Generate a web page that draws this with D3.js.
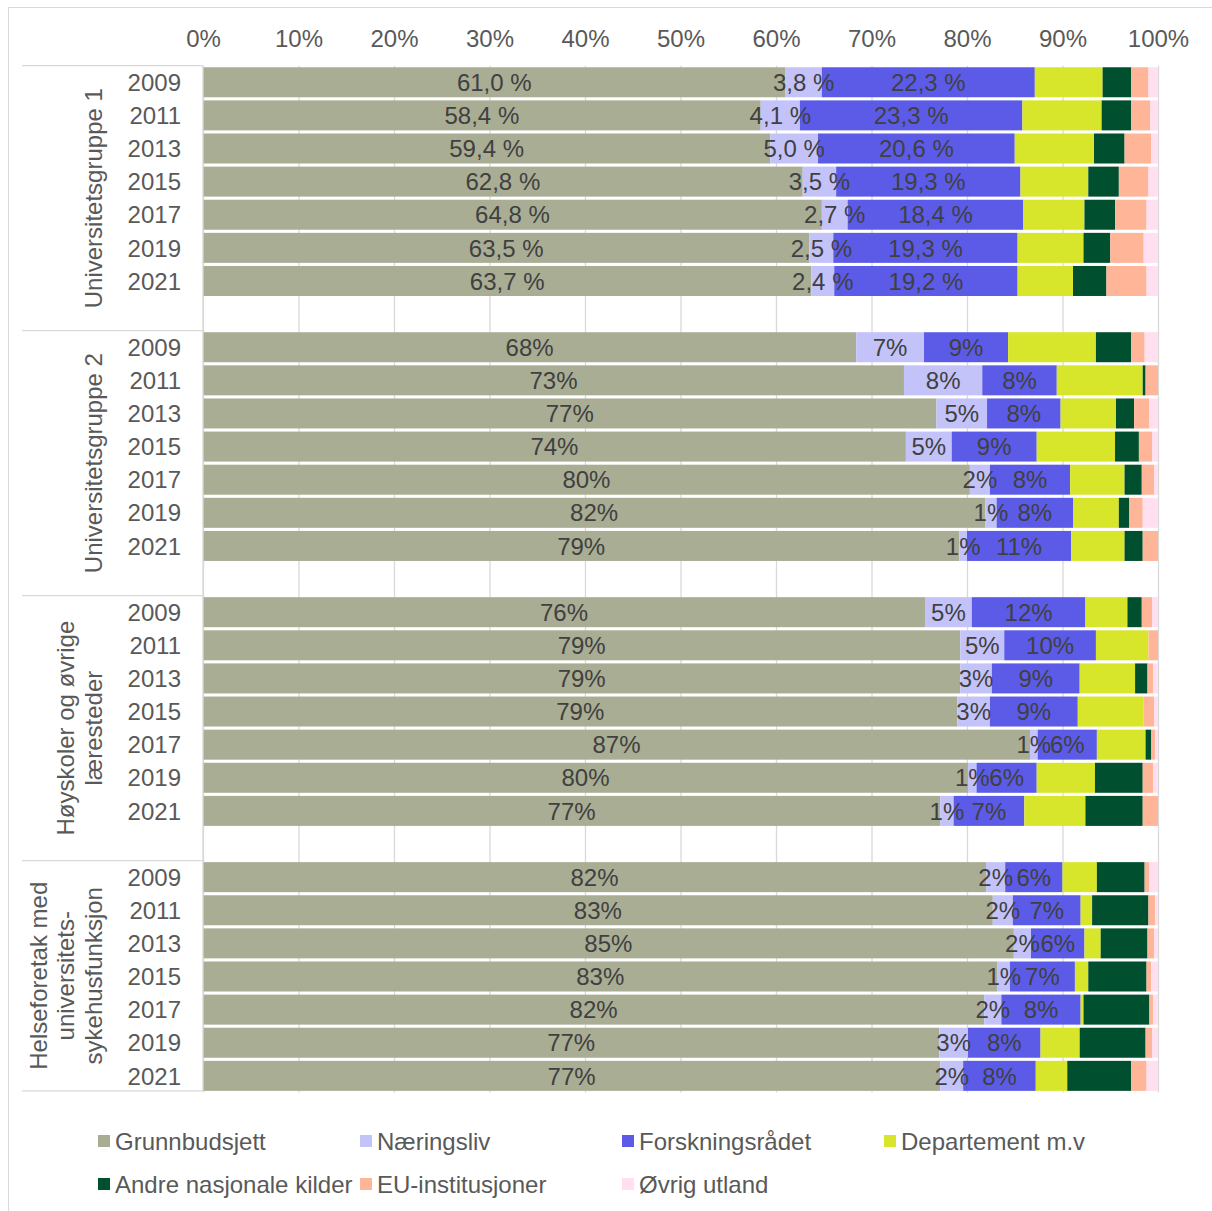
<!DOCTYPE html>
<html>
<head>
<meta charset="utf-8">
<script src="https://cdn.jsdelivr.net/npm/d3@7"></script>
<style>
  body { margin: 0; background: #fff; }
  svg { font-family: "Liberation Sans", Arial, sans-serif; }
</style>
</head>
<body>
<div class="canvas"></div>
<script>
// DATA
const groups = [
    ['Universitetsgruppe 1'],
    ['Universitetsgruppe 2'],
    ['Høyskoler og øvrige', 'læresteder'],
    ['Helseforetak med', 'universitets-', 'sykehusfunksjon']
];
const years = ['2009', '2011', '2013', '2015', '2017', '2019', '2021'];
const seriesNames = ['Grunnbudsjett', 'Næringsliv', 'Forskningsrådet', 'Departement m.v',
    'Andre nasjonale kilder', 'EU-institusjoner', 'Øvrig utland'];
const tickLabels = ['0%', '10%', '20%', '30%', '40%', '50%', '60%', '70%', '80%', '90%', '100%'];

// values in %, order: group 1 (2009..2021), group 2, group 3, group 4
const grunnbudsjett = [61.0, 58.4, 59.4, 62.8, 64.8, 63.5, 63.7,
    68.4, 73.4, 76.8, 73.6, 80.3, 81.9, 79.2,
    75.6, 79.3, 79.3, 79.0, 86.6, 80.1, 77.2,
    82.0, 82.7, 84.9, 83.2, 81.8, 77.1, 77.2];
const naeringsliv = [3.8, 4.1, 5.0, 3.5, 2.7, 2.5, 2.4,
    7.1, 8.2, 5.3, 4.8, 2.1, 1.2, 0.8,
    4.9, 4.6, 3.3, 3.4, 0.8, 0.9, 1.4,
    2.0, 2.1, 1.8, 1.3, 1.8, 3.0, 2.4];
const forskningsradet = [22.3, 23.3, 20.6, 19.3, 18.4, 19.3, 19.2,
    8.8, 7.8, 7.7, 8.9, 8.4, 8.0, 10.9,
    11.9, 9.6, 9.2, 9.2, 6.2, 6.3, 7.4,
    6.0, 7.1, 5.6, 6.8, 8.3, 7.6, 7.6];
const departement = [7.1, 8.3, 8.3, 7.1, 6.4, 6.9, 5.8,
    9.2, 9.0, 5.8, 8.2, 5.7, 4.8, 5.6,
    4.4, 5.5, 5.8, 6.9, 5.1, 6.1, 6.4,
    3.6, 1.2, 1.7, 1.4, 0.3, 4.1, 3.3];
const andreNasjonale = [3.0, 3.1, 3.2, 3.2, 3.2, 2.8, 3.5,
    3.7, 0.3, 1.9, 2.5, 1.8, 1.1, 1.9,
    1.5, 0.0, 1.3, 0.0, 0.6, 5.0, 6.0,
    5.0, 5.9, 4.9, 6.1, 6.9, 6.9, 6.7];
const euInstitusjoner = [1.8, 2.0, 2.8, 3.1, 3.3, 3.5, 4.2,
    1.4, 1.3, 1.6, 1.4, 1.3, 1.4, 1.6,
    1.1, 1.0, 0.6, 1.1, 0.4, 1.1, 1.6,
    0.5, 0.7, 0.7, 0.5, 0.4, 0.7, 1.6];
const ovrigUtland = [1.0, 0.8, 0.7, 1.0, 1.2, 1.5, 1.2,
    1.4, 0.0, 0.9, 0.6, 0.4, 1.6, 0.0,
    0.6, 0.0, 0.5, 0.4, 0.3, 0.5, 0.0,
    0.9, 0.3, 0.4, 0.7, 0.5, 0.6, 1.2];

const colors = ['#a9ad94', '#c3c3fa', '#5b5be8', '#d7e62b', '#00502f', '#ffb598', '#ffdff0'];


// worksheet
const width = 1212, height = 1211;
const svg = d3.select('.canvas').append('svg')
    .attr('width', width)
    .attr('height', height);

// outer frame
svg.append('rect')
    .attr('x', 8.5).attr('y', 7.5)
    .attr('width', width).attr('height', height)
    .attr('fill', 'none')
    .attr('stroke', '#d9d9d9');


// rows (with an empty slot between groups)
const rows = [];
const slots = [];
groups.forEach((g, gi) => {
    years.forEach((yr, yi) => {
        const i = gi * years.length + yi;
        const key = `${gi}-${yr}`;
        slots.push(key);
        const vals = [grunnbudsjett[i], naeringsliv[i], forskningsradet[i], departement[i],
            andreNasjonale[i], euInstitusjoner[i], ovrigUtland[i]];
        const total = d3.sum(vals);
        rows.push({ key, group: gi, year: yr, vals: vals.map(v => v / total), raw: vals });
    });
    if (gi < groups.length - 1) slots.push(`gap${gi}`);
});


// scales
const x = d3.scaleLinear().domain([0, 1]).range([203, 1158]);
const y = d3.scaleBand()
    .domain(slots)
    .range([65.7, 65.7 + slots.length * 33.12])
    .paddingInner(0.094)
    .paddingOuter(0.047);

const textColor = '#595959';
const fontSize = '24px';


// gridlines + top axis
const axis = d3.axisTop(x)
    .tickValues(d3.range(0, 1.01, 0.1))
    .tickFormat((d, i) => tickLabels[i])
    .tickSize(-(y.range()[1] - y.range()[0]));

const gAxis = svg.append('g')
    .attr('transform', `translate(0, ${y.range()[0]})`)
    .call(axis);
gAxis.select('.domain').remove();
gAxis.selectAll('.tick line').attr('stroke', '#d9d9d9').attr('stroke-width', 1.3);
gAxis.selectAll('.tick text')
    .attr('fill', textColor)
    .style('font-size', fontSize)
    .attr('y', 38 - y.range()[0])
    .attr('dy', '0.36em');


// BARS
rows.forEach(r => {
    const g = svg.append('g');
    let acc = 0;
    r.vals.forEach((v, si) => {
        const x0 = acc;
        acc += v;
        if (v <= 0) return;
        g.append('rect')
            .attr('x', x(x0))
            .attr('y', y(r.key))
            .attr('width', x(acc) - x(x0))
            .attr('height', y.bandwidth())
            .attr('fill', colors[si]);
    });

    // labels on the first three series
    acc = 0;
    r.vals.forEach((v, si) => {
        const x0 = acc;
        acc += v;
        if (si > 2) return;
        const txt = r.group === 0
            ? d3.format('.1f')(r.raw[si]).replace('.', ',') + ' %'
            : Math.round(r.raw[si]) + '%';
        g.append('text')
            .attr('x', (x(x0) + x(acc)) / 2)
            .attr('y', y(r.key) + y.bandwidth() / 2)
            .attr('dy', '0.36em')
            .attr('text-anchor', 'middle')
            .attr('fill', '#404040')
            .style('font-size', fontSize)
            .text(txt);
    });

    // year label
    svg.append('text')
        .attr('x', 181)
        .attr('y', y(r.key) + y.bandwidth() / 2)
        .attr('dy', '0.36em')
        .attr('text-anchor', 'end')
        .attr('fill', textColor)
        .style('font-size', fontSize)
        .text(r.year);
});


// category axis lines
const yTop = y.range()[0], yBot = y.range()[1] - 1.5;
svg.append('line')
    .attr('x1', 203).attr('x2', 203)
    .attr('y1', yTop).attr('y2', yBot)
    .attr('stroke', '#d9d9d9').attr('stroke-width', 1.3);

// group boundaries: top of first row slot .. end of trailing gap slot
const groupBounds = groups.map((g, gi) => {
    const top = gi === 0 ? yTop : y(`gap${gi - 1}`) - y.step() * y.paddingInner() / 2 + y.step();
    const bot = gi < groups.length - 1
        ? y(`gap${gi}`) - y.step() * y.paddingInner() / 2 + y.step()
        : yBot;
    return [top, bot];
});

[yTop, ...groupBounds.map(b => b[1])].forEach(sy => {
    svg.append('line')
        .attr('x1', 22).attr('x2', 203)
        .attr('y1', sy).attr('y2', sy)
        .attr('stroke', '#d9d9d9').attr('stroke-width', 1.3);
});


// group labels (rotated)
groups.forEach((lines, gi) => {
    const cy = (groupBounds[gi][0] + groupBounds[gi][1]) / 2;
    lines.forEach((line, li) => {
        const cx = 93 - (lines.length - 1 - li) * 27.5;
        svg.append('text')
            .attr('transform', `translate(${cx}, ${cy}) rotate(-90)`)
            .attr('dy', '0.36em')
            .attr('text-anchor', 'middle')
            .attr('fill', textColor)
            .style('font-size', fontSize)
            .text(line);
    });
});


// LEGEND
const legendPos = [[98, 1141], [360, 1141], [622, 1141], [884, 1141],
    [98, 1184], [360, 1184], [622, 1184]];
seriesNames.forEach((name, i) => {
    const [lx, ly] = legendPos[i];
    svg.append('rect')
        .attr('x', lx).attr('y', ly - 6)
        .attr('width', 12).attr('height', 12)
        .attr('fill', colors[i]);
    svg.append('text')
        .attr('x', lx + 17)
        .attr('y', ly)
        .attr('dy', '0.36em')
        .attr('fill', textColor)
        .style('font-size', fontSize)
        .text(name);
});
</script>
</body>
</html>
